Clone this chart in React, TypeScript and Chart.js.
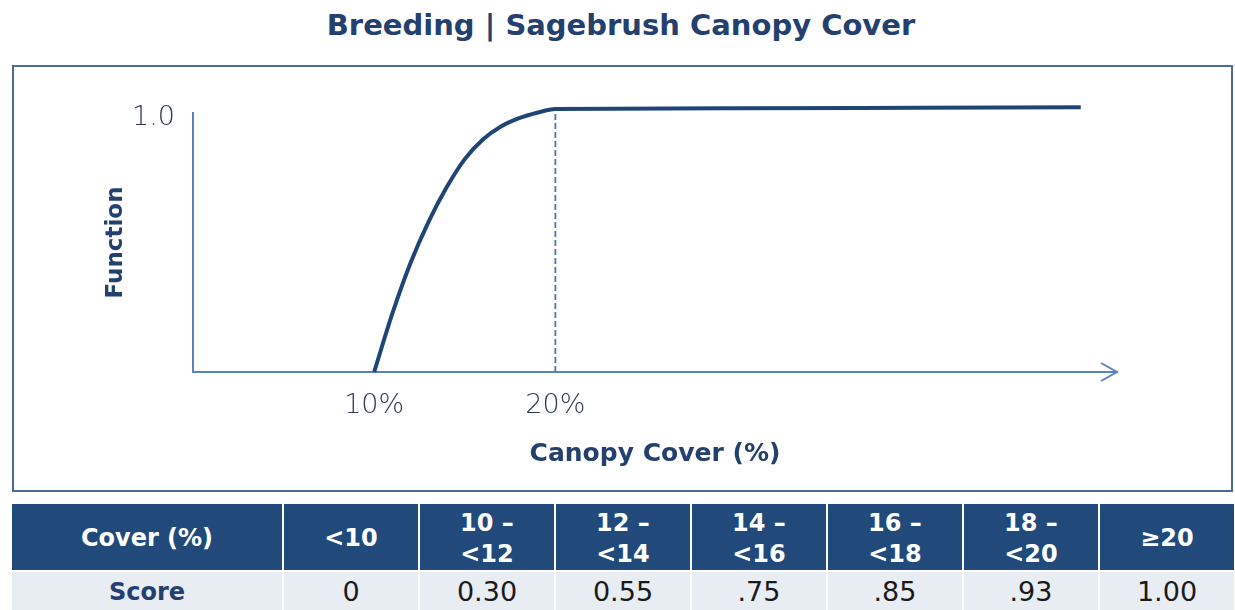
import React, { useEffect, useRef } from "react";
import { Chart, registerables } from "chart.js";

Chart.register(...registerables);

const coverPct = [10, 11, 12, 13, 14, 15, 16, 17, 18, 19, 20, 30, 40, 49];
const functionValue = [0, 0.225, 0.42, 0.58, 0.713, 0.822, 0.898, 0.948, 0.98, 1.001, 1.015, 1.018, 1.02, 1.022];
const thresholdPct = 20;
const xTickValues = [10, 20];
const yTickValues = [1];
const xMax = 51;

const tableHeader = ["Cover (%)", "<10", "10 –\n<12", "12 –\n<14", "14 –\n<16", "16 –\n<18", "18 –\n<20", "≥20"];
const tableScores = ["Score", "0", "0.30", "0.55", ".75", ".85", ".93", "1.00"];

const NAVY = "#24406E";
const AXIS = "#5B84BE";
const FONT = "'DejaVu Sans', sans-serif";

const arrowPlugin = {
  id: "arrowHead",
  afterDraw(chart: any) {
    const { ctx, chartArea } = chart;
    const x = chartArea.right;
    const y = chart.scales.y.getPixelForValue(0);
    ctx.save();
    ctx.strokeStyle = AXIS;
    ctx.lineWidth = 2;
    ctx.beginPath();
    ctx.moveTo(x - 16, y - 9);
    ctx.lineTo(x, y);
    ctx.lineTo(x - 16, y + 9);
    ctx.stroke();
    ctx.restore();
  },
};

function FunctionChart() {
  const ref = useRef<HTMLCanvasElement | null>(null);
  useEffect(() => {
    if (!ref.current) return;
    const chart = new Chart(ref.current, {
      type: "line",
      data: {
        datasets: [
          {
            data: coverPct.map((x, i) => ({ x, y: functionValue[i] })),
            borderColor: "#1E4576",
            borderWidth: 4,
            pointRadius: 0,
            cubicInterpolationMode: "monotone",
            fill: false,
          },
          {
            data: [
              { x: thresholdPct, y: 0 },
              { x: thresholdPct, y: functionValue[coverPct.indexOf(thresholdPct)] },
            ],
            borderColor: "#4B76B0",
            borderWidth: 1.8,
            borderDash: [6, 3],
            pointRadius: 0,
            fill: false,
          },
        ],
      },
      options: {
        responsive: false,
        animation: false,
        clip: false,
        layout: { padding: { top: 46, right: 114, left: 0, bottom: 0 } },
        plugins: { legend: { display: false }, tooltip: { enabled: false }, title: { display: false } },
        scales: {
          x: {
            type: "linear",
            min: 0,
            max: xMax,
            grid: { display: false, drawTicks: false },
            border: { display: true, color: AXIS, width: 2 },
            afterBuildTicks: (s: any) => {
              s.ticks = xTickValues.map((v) => ({ value: v }));
            },
            afterFit: (s: any) => {
              s.height = 118;
            },
            ticks: {
              padding: 18,
              color: "#2F3C55",
              font: { family: FONT, size: 27, weight: "200" },
              callback: (v: any) => v + "%",
              autoSkip: false,
              maxRotation: 0,
            },
            title: {
              display: true,
              text: "Canopy Cover (%)",
              color: NAVY,
              font: { family: FONT, size: 25, weight: "bold" },
              padding: { top: 0, bottom: 21 },
            },
          },
          y: {
            type: "linear",
            min: 0,
            max: 1,
            grid: { display: false, drawTicks: false },
            border: { display: true, color: AXIS, width: 2 },
            afterBuildTicks: (s: any) => {
              s.ticks = yTickValues.map((v) => ({ value: v }));
            },
            afterFit: (s: any) => {
              s.width = 179;
            },
            ticks: {
              padding: 18,
              labelOffset: 5,
              color: "#2F3C55",
              font: { family: FONT, size: 27, weight: "200" },
              callback: (v: any) => Number(v).toFixed(1),
            },
            title: {
              display: true,
              text: "Function",
              color: NAVY,
              font: { family: FONT, size: 23, weight: "bold" },
              padding: { top: 88, bottom: 0 },
            },
          },
        },
      },
      plugins: [arrowPlugin],
    } as any);
    return () => chart.destroy();
  }, []);
  return <canvas ref={ref} width={1217} height={423} style={{ display: "block" }} />;
}

export default function App() {
  const colW = [272, 136, 136, 136, 136, 136, 136, 136];
  return (
    <div style={{ position: "absolute", left: 0, top: 0, width: 1235, height: 610, background: "#fff", overflow: "hidden", fontFamily: FONT }}>
      <div
        style={{
          position: "absolute",
          left: 0,
          top: 6,
          width: 1242,
          textAlign: "center",
          color: NAVY,
          fontWeight: 700,
          fontSize: 29,
          lineHeight: "38px",
        }}
      >
        Breeding | Sagebrush Canopy Cover
      </div>
      <div
        style={{
          position: "absolute",
          left: 12,
          top: 65,
          width: 1217,
          height: 423,
          border: "2px solid #4A6A97",
        }}
      >
        <FunctionChart />
      </div>
      <table
        style={{
          position: "absolute",
          left: 10,
          top: 502,
          borderCollapse: "collapse",
          tableLayout: "fixed",
          width: 1224,
          borderTop: "1px solid #cfcfcf",
        }}
      >
        <colgroup>
          {colW.map((w, i) => (
            <col key={i} style={{ width: w }} />
          ))}
        </colgroup>
        <tbody>
          <tr style={{ height: 68 }}>
            {tableHeader.map((h, i) => (
              <td
                key={i}
                style={{
                  background: "#214A7B",
                  color: "#fff",
                  fontWeight: 700,
                  fontSize: 24,
                  lineHeight: "31px",
                  textAlign: "center",
                  border: "2px solid #fff",
                  padding: "3px 0 0 0",
                  whiteSpace: "pre",
                }}
              >
                {h}
              </td>
            ))}
          </tr>
          <tr style={{ height: 42 }}>
            {tableScores.map((s, i) => (
              <td
                key={i}
                style={{
                  background: "#E8ECF3",
                  color: i === 0 ? NAVY : "#1a1a1a",
                  fontWeight: i === 0 ? 700 : 400,
                  fontSize: i === 0 ? 24 : 27,
                  textAlign: "center",
                  border: "2px solid #fff",
                  padding: 0,
                  verticalAlign: "top",
                  lineHeight: "40px",
                }}
              >
                {s}
              </td>
            ))}
          </tr>
        </tbody>
      </table>
    </div>
  );
}
